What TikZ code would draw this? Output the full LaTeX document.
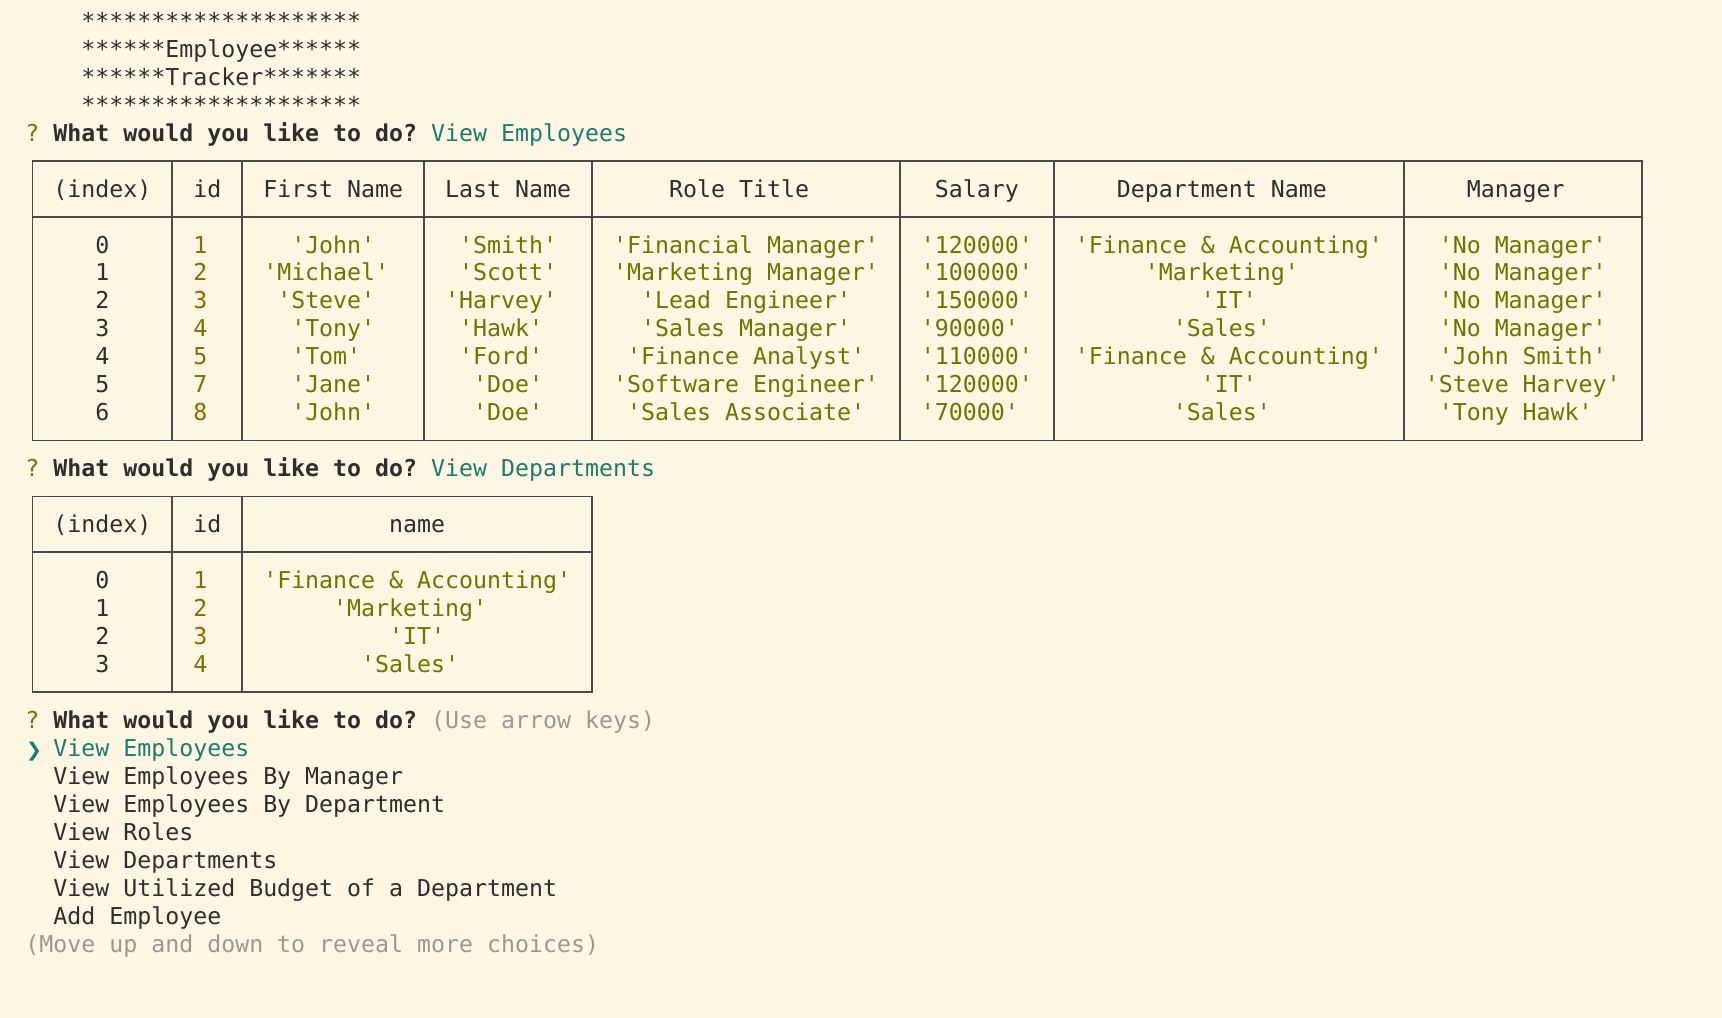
\documentclass[tikz,border=0pt]{standalone}
\usepackage{fontspec}
\setmonofont{DejaVu Sans Mono}
\newfontfamily\djsans{DejaVu Sans}
\definecolor{bg}{HTML}{FDF6E3}
\definecolor{fg}{HTML}{2E2E2E}
\definecolor{qmark}{HTML}{6E7A00}
\definecolor{answer}{HTML}{1F7A70}
\definecolor{strc}{HTML}{6B7800}
\definecolor{numc}{HTML}{8B6A00}
\definecolor{hint}{HTML}{9A9A92}
\definecolor{rule}{HTML}{4A4A4A}
\newcommand\cellnode[5]{\node[txt,#4] (#1) at (#2,#3+0.3) {#5};}
\begin{document}
\begin{tikzpicture}[x=13.994pt,y=-27.97pt,
  txt/.style={anchor=base west,inner sep=0pt,outer sep=0pt,
    font={\ttfamily\fontsize{23.244pt}{28pt}\selectfont},text=fg},
  bold/.style={font={\ttfamily\bfseries\fontsize{23.244pt}{28pt}\selectfont}},
  qm/.style={text=qmark},
  ans/.style={text=answer},
  str/.style={text=strc},
  num/.style={text=numc},
  hnt/.style={text=hint},
  tbl/.style={draw=rule,line width=1.7pt,line cap=rect}]
\useasboundingbox (-1.813,-0.746) rectangle (121.24,35.65);
\fill[bg] (-1.813,-0.746) rectangle (121.24,35.65);

% banner
\cellnode{ban0}{4}{0}{}{********************}
\cellnode{ban1}{4}{1}{}{******Employee******}
\cellnode{ban2}{4}{2}{}{******Tracker*******}
\cellnode{ban3}{4}{3}{}{********************}

% question 1
\cellnode{q1m}{0}{4}{qm}{?}
\cellnode{q1t}{2}{4}{bold}{What would you like to do?}
\cellnode{q1a}{29}{4}{ans}{View Employees}

% table 1 rules
\draw[tbl] (0.5,5) -- (115.5,5);
\draw[tbl] (0.5,7) -- (115.5,7);
\draw[tbl] (0.5,15) -- (115.5,15);
\foreach \b in {0,10,15,28,40,62,73,98,115}
  \draw[tbl] (\b+0.5,5) -- (\b+0.5,15);

% table 1 header
\cellnode{h1a}{2}{6}{}{(index)}
\cellnode{h1b}{12}{6}{}{id}
\cellnode{h1c}{17}{6}{}{First Name}
\cellnode{h1d}{30}{6}{}{Last Name}
\cellnode{h1e}{46}{6}{}{Role Title}
\cellnode{h1f}{65}{6}{}{Salary}
\cellnode{h1g}{78}{6}{}{Department Name}
\cellnode{h1h}{103}{6}{}{Manager}

% table 1 rows
\cellnode{r8a}{5}{8}{}{0}
\cellnode{r8b}{12}{8}{num}{1}
\cellnode{r8c}{19}{8}{str}{'John'}
\cellnode{r8d}{31}{8}{str}{'Smith'}
\cellnode{r8e}{42}{8}{str}{'Financial Manager'}
\cellnode{r8f}{64}{8}{str}{'120000'}
\cellnode{r8g}{75}{8}{str}{'Finance \& Accounting'}
\cellnode{r8h}{101}{8}{str}{'No Manager'}

\cellnode{r9a}{5}{9}{}{1}
\cellnode{r9b}{12}{9}{num}{2}
\cellnode{r9c}{17}{9}{str}{'Michael'}
\cellnode{r9d}{31}{9}{str}{'Scott'}
\cellnode{r9e}{42}{9}{str}{'Marketing Manager'}
\cellnode{r9f}{64}{9}{str}{'100000'}
\cellnode{r9g}{80}{9}{str}{'Marketing'}
\cellnode{r9h}{101}{9}{str}{'No Manager'}

\cellnode{r10a}{5}{10}{}{2}
\cellnode{r10b}{12}{10}{num}{3}
\cellnode{r10c}{18}{10}{str}{'Steve'}
\cellnode{r10d}{30}{10}{str}{'Harvey'}
\cellnode{r10e}{44}{10}{str}{'Lead Engineer'}
\cellnode{r10f}{64}{10}{str}{'150000'}
\cellnode{r10g}{84}{10}{str}{'IT'}
\cellnode{r10h}{101}{10}{str}{'No Manager'}

\cellnode{r11a}{5}{11}{}{3}
\cellnode{r11b}{12}{11}{num}{4}
\cellnode{r11c}{19}{11}{str}{'Tony'}
\cellnode{r11d}{31}{11}{str}{'Hawk'}
\cellnode{r11e}{44}{11}{str}{'Sales Manager'}
\cellnode{r11f}{64}{11}{str}{'90000'}
\cellnode{r11g}{82}{11}{str}{'Sales'}
\cellnode{r11h}{101}{11}{str}{'No Manager'}

\cellnode{r12a}{5}{12}{}{4}
\cellnode{r12b}{12}{12}{num}{5}
\cellnode{r12c}{19}{12}{str}{'Tom'}
\cellnode{r12d}{31}{12}{str}{'Ford'}
\cellnode{r12e}{43}{12}{str}{'Finance Analyst'}
\cellnode{r12f}{64}{12}{str}{'110000'}
\cellnode{r12g}{75}{12}{str}{'Finance \& Accounting'}
\cellnode{r12h}{101}{12}{str}{'John Smith'}

\cellnode{r13a}{5}{13}{}{5}
\cellnode{r13b}{12}{13}{num}{7}
\cellnode{r13c}{19}{13}{str}{'Jane'}
\cellnode{r13d}{32}{13}{str}{'Doe'}
\cellnode{r13e}{42}{13}{str}{'Software Engineer'}
\cellnode{r13f}{64}{13}{str}{'120000'}
\cellnode{r13g}{84}{13}{str}{'IT'}
\cellnode{r13h}{100}{13}{str}{'Steve Harvey'}

\cellnode{r14a}{5}{14}{}{6}
\cellnode{r14b}{12}{14}{num}{8}
\cellnode{r14c}{19}{14}{str}{'John'}
\cellnode{r14d}{32}{14}{str}{'Doe'}
\cellnode{r14e}{43}{14}{str}{'Sales Associate'}
\cellnode{r14f}{64}{14}{str}{'70000'}
\cellnode{r14g}{82}{14}{str}{'Sales'}
\cellnode{r14h}{101}{14}{str}{'Tony Hawk'}

% question 2
\cellnode{q2m}{0}{16}{qm}{?}
\cellnode{q2t}{2}{16}{bold}{What would you like to do?}
\cellnode{q2a}{29}{16}{ans}{View Departments}

% table 2 rules
\draw[tbl] (0.5,17) -- (40.5,17);
\draw[tbl] (0.5,19) -- (40.5,19);
\draw[tbl] (0.5,24) -- (40.5,24);
\foreach \b in {0,10,15,40}
  \draw[tbl] (\b+0.5,17) -- (\b+0.5,24);

\cellnode{h2a}{2}{18}{}{(index)}
\cellnode{h2b}{12}{18}{}{id}
\cellnode{h2c}{26}{18}{}{name}

\cellnode{d20a}{5}{20}{}{0}
\cellnode{d20b}{12}{20}{num}{1}
\cellnode{d20c}{17}{20}{str}{'Finance \& Accounting'}
\cellnode{d21a}{5}{21}{}{1}
\cellnode{d21b}{12}{21}{num}{2}
\cellnode{d21c}{22}{21}{str}{'Marketing'}
\cellnode{d22a}{5}{22}{}{2}
\cellnode{d22b}{12}{22}{num}{3}
\cellnode{d22c}{26}{22}{str}{'IT'}
\cellnode{d23a}{5}{23}{}{3}
\cellnode{d23b}{12}{23}{num}{4}
\cellnode{d23c}{24}{23}{str}{'Sales'}

% question 3
\cellnode{q3m}{0}{25}{qm}{?}
\cellnode{q3t}{2}{25}{bold}{What would you like to do?}
\cellnode{q3h}{29}{25}{hnt}{(Use arrow keys)}

% menu
\node[txt,ans,font={\djsans\bfseries\fontsize{19pt}{28pt}\selectfont}] (ptr) at (0.05,26.3) {❯};
\cellnode{m0}{2}{26}{ans}{View Employees}
\cellnode{m1}{2}{27}{}{View Employees By Manager}
\cellnode{m2}{2}{28}{}{View Employees By Department}
\cellnode{m3}{2}{29}{}{View Roles}
\cellnode{m4}{2}{30}{}{View Departments}
\cellnode{m5}{2}{31}{}{View Utilized Budget of a Department}
\cellnode{m6}{2}{32}{}{Add Employee}
\cellnode{more}{0}{33}{hnt}{(Move up and down to reveal more choices)}
\end{tikzpicture}
\end{document}
